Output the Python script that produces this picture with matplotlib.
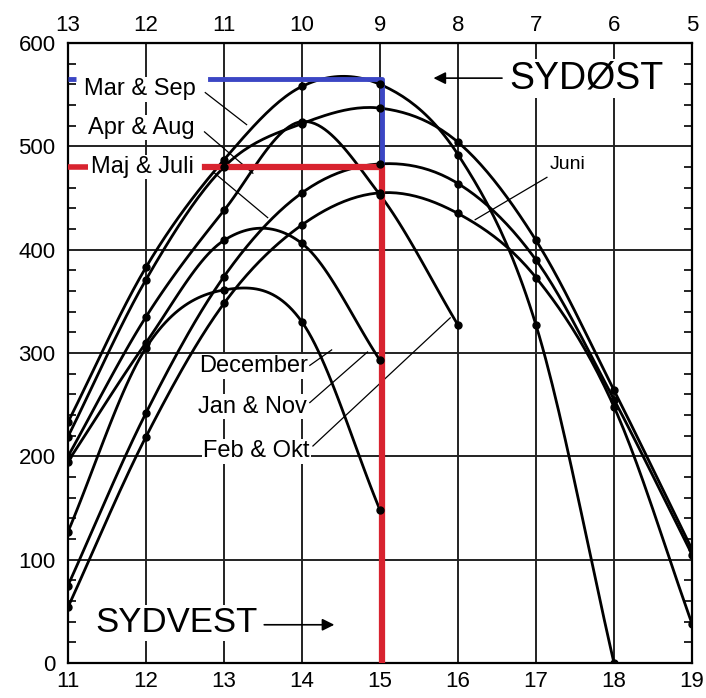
import numpy as np
import matplotlib
matplotlib.use('Agg')
import matplotlib.pyplot as plt
from matplotlib.ticker import MultipleLocator

plt.rcParams['font.family'] = ['Liberation Sans', 'DejaVu Sans']

# hours (bottom axis, SW facade) and values
hours = [11, 12, 13, 14, 15, 16, 17, 18, 19]
mar_sep = [233, 383, 487, 558, 560, 492, 327, 0]
apr_aug = [219, 371, 480, 522, 537, 504, 409, 264, 110]
maj_juli = [75, 242, 374, 455, 483, 464, 390, 255, 105]
juni = [54, 219, 348, 424, 455, 435, 373, 248, 38]
feb_okt = [200, 335, 438, 524, 453, 327]
jan_nov = [195, 310, 409, 406, 293]
december = [127, 305, 361, 330, 148]

top_labels = [13, 12, 11, 10, 9, 8, 7, 6, 5]
mar_sep_read = 565
maj_juli_read = 480
read_hour = 15


def smooth(x, y, n=25):
    # cubic hermite through the points so the curves look drawn by hand
    x = np.asarray(x, float)
    y = np.asarray(y, float)
    m = np.gradient(y, x)
    xs, ys = [], []
    for i in range(len(x) - 1):
        h = x[i + 1] - x[i]
        t = np.linspace(0, 1, n)
        h00 = 2*t**3 - 3*t**2 + 1
        h10 = t**3 - 2*t**2 + t
        h01 = -2*t**3 + 3*t**2
        h11 = t**3 - t**2
        xs.append(x[i] + t*h)
        ys.append(h00*y[i] + h10*h*m[i] + h01*y[i + 1] + h11*h*m[i + 1])
    return np.concatenate(xs), np.concatenate(ys)


fig = plt.figure(figsize=(7.06, 6.98), dpi=100)
ax = fig.add_axes([68/706, 35/698, 624/706, 620/698])

ax.set_xlim(11, 19)
ax.set_ylim(0, 600)
ax.set_xticks(hours)
ax.set_yticks(range(0, 601, 100))
ax.yaxis.set_minor_locator(MultipleLocator(20))
ax.grid(True, which='major', color='#222222', lw=1.4, zorder=1)
ax.tick_params(axis='x', which='major', labelsize=16, length=0, pad=6)
ax.tick_params(axis='y', which='major', labelsize=16, length=0, pad=9)
ax.tick_params(axis='y', which='minor', direction='in', length=6, width=1.2,
               left=True, right=True)
for s in ax.spines.values():
    s.set_linewidth(1.6)

top = ax.secondary_xaxis('top', functions=(lambda v: 24 - v, lambda v: 24 - v))
top.set_xticks(top_labels)
top.tick_params(labelsize=16, length=0, pad=5)

for vals in [mar_sep, apr_aug, maj_juli, juni, feb_okt, jan_nov, december]:
    xs = hours[:len(vals)]
    sx, sy = smooth(xs, vals)
    ax.plot(sx, sy, color='black', lw=2, zorder=4)
    ax.plot(xs, vals, 'o', color='black', ms=5, zorder=7)

# reading lines
blue = '#3b46c4'
red = '#d8232f'
ax.plot([11, 11.1], [mar_sep_read]*2, color=blue, lw=3.5, zorder=6, solid_capstyle='butt')
ax.plot([12.82, read_hour + 0.03, read_hour + 0.03],
        [mar_sep_read, mar_sep_read, maj_juli_read + 3],
        color=blue, lw=3.5, zorder=6)
ax.plot([11, 11.25], [maj_juli_read]*2, color=red, lw=4, zorder=6, solid_capstyle='butt')
ax.plot([12.76, read_hour + 0.03, read_hour + 0.03], [maj_juli_read, maj_juli_read, 0],
        color=red, lw=4.5, zorder=6)

box = dict(facecolor='white', edgecolor='none', pad=1)
lab = dict(fontsize=17, zorder=3, bbox=box, va='center')
ax.text(11.2, 555, 'Mar & Sep', ha='left', **lab)
ax.text(11.25, 518, 'Apr & Aug', ha='left', **lab)
ax.text(11.3, 480, 'Maj & Juli', ha='left', **lab)
ax.text(17.4, 482, 'Juni', ha='center', fontsize=14, zorder=3, bbox=box, va='center')
ax.text(14.08, 287, 'December', ha='right', **lab)
ax.text(14.06, 248, 'Jan & Nov', ha='right', **lab)
ax.text(14.1, 205, 'Feb & Okt', ha='right', **lab)

leaders = [((12.76, 552), (13.29, 521)),
           ((12.75, 514), (13.37, 474)),
           ((12.88, 474), (13.56, 431)),
           ((17.14, 470), (16.22, 429)),
           ((14.1, 288), (14.38, 303)),
           ((14.1, 252), (14.84, 301)),
           ((14.14, 210), (15.9, 334))]
for (x0, y0), (x1, y1) in leaders:
    ax.plot([x0, x1], [y0, y1], color='black', lw=0.9, zorder=3)

ax.text(17.65, 566, 'SYDØST', ha='center', va='center', fontsize=27, zorder=3, bbox=box)
ax.annotate('', xy=(15.65, 566), xytext=(16.6, 566),
            arrowprops=dict(arrowstyle='-|>', color='black', lw=1.2, mutation_scale=18))
ax.text(11.35, 39, 'SYDVEST', ha='left', va='center', fontsize=25, zorder=3, bbox=box)
ax.annotate('', xy=(14.45, 37), xytext=(13.48, 37),
            arrowprops=dict(arrowstyle='-|>', color='black', lw=1.2, mutation_scale=18))

fig.savefig('out.png', dpi=100)
